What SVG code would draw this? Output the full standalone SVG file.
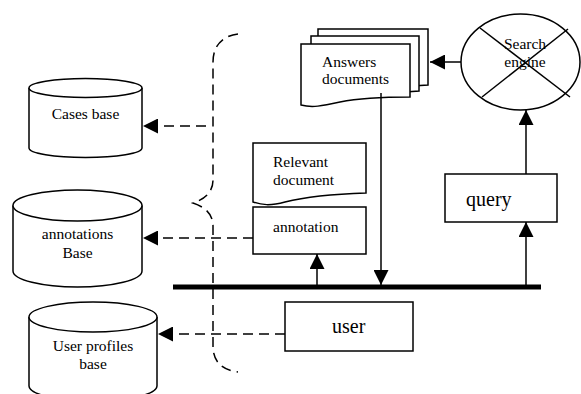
<svg xmlns="http://www.w3.org/2000/svg" width="581" height="394" viewBox="0 0 581 394">
  <style>
    .shape { fill: #fff; stroke: #000; stroke-width: 1.5; }
    .line { fill: none; stroke: #000; stroke-width: 1.5; }
    .dash { fill: none; stroke: #000; stroke-width: 1.5; stroke-dasharray: 10 6; }
    .bus { fill: none; stroke: #000; stroke-width: 5; }
    text { font-family: "Liberation Serif", "Times New Roman", serif; fill: #000; }
    .s { font-size: 15.5px; }
    .l { font-size: 20px; }
    .c { text-anchor: middle; }
  </style>
  <defs>
    <marker id="arrow" markerUnits="userSpaceOnUse" markerWidth="16" markerHeight="15" refX="15" refY="7.5" orient="auto">
      <path d="M0,0 L15,7.5 L0,15 Z" fill="#000"/>
    </marker>
  </defs>

  <!-- data stores -->
  <g id="cases-base">
    <path class="shape" d="M29,88 L29,148 A56.5,9.5 0 0 0 142,148 L142,88"/>
    <ellipse class="shape" cx="85.5" cy="88" rx="56.5" ry="9.5"/>
    <text class="s c" x="85.5" y="119">Cases base</text>
  </g>
  <g id="annotations-base">
    <path class="shape" d="M13,205.5 L13,271 A64.5,16 0 0 0 142,271 L142,205.5"/>
    <ellipse class="shape" cx="77.5" cy="205.5" rx="64.5" ry="15.5"/>
    <text class="s c" x="77.5" y="239">annotations</text>
    <text class="s c" x="77.5" y="257.5">Base</text>
  </g>
  <g id="user-profiles-base">
    <path class="shape" d="M29,317 L29,386 A64,15 0 0 0 157,386 L157,317"/>
    <ellipse class="shape" cx="93" cy="317" rx="64" ry="15"/>
    <text class="s c" x="93" y="350.5">User profiles</text>
    <text class="s c" x="93" y="369">base</text>
  </g>

  <!-- grouping brace -->
  <g id="brace">
    <path class="dash" d="M238,34 C222,36 213,46 213,62 L213,180 C213,192 205,199 193,203 C205,207 213,214 213,226 L213,346 C213,362 222,370 238,372"/>
  </g>

  <!-- documents -->
  <g id="answers-documents">
    <path class="shape" d="M318,29 H428 V85 L412,86 H318 Z"/>
    <path class="shape" d="M311,36 H419 V91 L405,92 H311 Z"/>
    <path class="shape" d="M301,44 H410 V97 C385,97 360,98 340,102 C322,106 312,108 301,105 Z"/>
    <text class="s" x="322" y="66.5">Answers</text>
    <text class="s" x="322" y="84">documents</text>
  </g>
  <g id="relevant-document">
    <path class="shape" d="M253,143 H366 V193 C335,194 305,197 285,202 C270,206 262,205 253,202 Z"/>
    <text class="s" x="273" y="167">Relevant</text>
    <text class="s" x="273" y="185">document</text>
  </g>
  <g id="annotation">
    <rect class="shape" x="253" y="207" width="113" height="47"/>
    <text class="s" x="273" y="232">annotation</text>
  </g>

  <!-- process nodes -->
  <g id="search-engine">
    <ellipse class="shape" cx="520.5" cy="62" rx="59.5" ry="48"/>
    <text class="s c" x="525" y="49">Search</text>
    <text class="s c" x="525" y="67">engine</text>
    <line class="line" x1="480" y1="28" x2="570" y2="97"/>
    <line class="line" x1="482" y1="97" x2="568" y2="29"/>
  </g>
  <g id="query">
    <rect class="shape" x="445" y="174" width="112" height="48"/>
    <text class="l" x="466" y="206">query</text>
  </g>
  <g id="user">
    <rect class="shape" x="285" y="302" width="128" height="49"/>
    <text class="l" x="332" y="332.5">user</text>
  </g>

  <!-- connectors -->
  <g id="connectors">
    <line class="bus" x1="173" y1="287" x2="541" y2="287"/>
    <line class="line" x1="461" y1="62" x2="430" y2="62" marker-end="url(#arrow)"/>
    <line class="line" x1="526" y1="174" x2="526" y2="110" marker-end="url(#arrow)"/>
    <line class="line" x1="526" y1="285" x2="526" y2="222" marker-end="url(#arrow)"/>
    <line class="line" x1="317" y1="285" x2="317" y2="254" marker-end="url(#arrow)"/>
    <line class="line" x1="381" y1="93" x2="381" y2="285" marker-end="url(#arrow)"/>
    <line class="dash" x1="206" y1="126" x2="143" y2="126" marker-end="url(#arrow)"/>
    <line class="dash" x1="253" y1="238" x2="143" y2="238" marker-end="url(#arrow)"/>
    <line class="dash" x1="285" y1="334" x2="158" y2="334" marker-end="url(#arrow)"/>
  </g>
</svg>
